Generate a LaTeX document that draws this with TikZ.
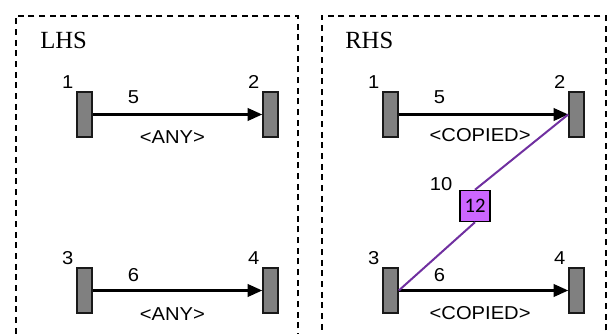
\documentclass[tikz,border=0pt]{standalone}
\usepackage{fontspec}
\setmainfont{Liberation Sans}[FakeStretch=1.08]
\newfontfamily\sidefont{Liberation Serif}
\newfontfamily\tagfont{Carlito}
\usetikzlibrary{arrows.meta, positioning}
\definecolor{portgray}{RGB}{128,128,128}
\definecolor{linkpurple}{RGB}{112,48,160}
\definecolor{tagpurple}{RGB}{204,102,255}

\begin{document}
\begin{tikzpicture}[
	x=0.75pt, y=-0.75pt,
	node distance=132pt and 139.5pt,
	font=\fontsize{14}{16}\selectfont,
	frame/.style={draw, dash pattern=on 4.5pt off 3.5pt, line width=1.2pt, anchor=north west, minimum height=255pt, inner sep=0pt},
	port/.style={on grid, draw=black!90, fill=portgray, line width=1.2pt, minimum width=11.25pt, minimum height=33.75pt, inner sep=0pt},
	num/.style={inner sep=0pt, anchor=south east},
	side/.style={inner sep=0pt, anchor=base west, font=\sidefont\fontsize{18.5}{22}\selectfont},
	arrow/.style={-{Triangle[length=11pt, width=9.5pt]}, line width=1.6pt},
	link/.style={linkpurple, line width=1.5pt},
	tagbox/.style={draw, fill=tagpurple, line width=1.1pt, minimum width=22.5pt, minimum height=23.25pt, inner sep=0pt, font=\tagfont\fontsize{15.5}{18}\selectfont}
]
\useasboundingbox (0,0) rectangle (608,334);

% Frames
\node[frame, minimum width=211.5pt] (lhs) at (15,15) {};
\node[frame, minimum width=213pt] (rhs) at (321,15) {};
\node[side] (lhsname) at (40,49) {LHS};
\node[side] (rhsname) at (345,49) {RHS};

% Ports
\node[port] (l1) at (84.5,114.5) {};
\node[port, right=of l1] (l2) {};
\node[port, below=of l1] (l3) {};
\node[port, below=of l2] (l4) {};
\node[port, right=229.5pt of l1] (r1) {};
\node[port, right=of r1] (r2) {};
\node[port, below=of r1] (r3) {};
\node[port, below=of r2] (r4) {};

% Port numbers
\node[num] (nl1) at ([shift={(-2pt,1.5pt)}]l1.north west) {1};
\node[num] (nl2) at ([shift={(-2pt,1.5pt)}]l2.north west) {2};
\node[num] (nl3) at ([shift={(-2pt,1.5pt)}]l3.north west) {3};
\node[num] (nl4) at ([shift={(-2pt,1.5pt)}]l4.north west) {4};
\node[num] (nr1) at ([shift={(-2pt,1.5pt)}]r1.north west) {1};
\node[num] (nr2) at ([shift={(-2pt,1.5pt)}]r2.north west) {2};
\node[num] (nr3) at ([shift={(-2pt,1.5pt)}]r3.north west) {3};
\node[num] (nr4) at ([shift={(-2pt,1.5pt)}]r4.north west) {4};

% Tag
\node[tagbox] (t12) at (475,206) {12};
\node[num] (n10) at ([shift={(-5pt,-1pt)}]t12.north west) {10};

% Edges
\draw[arrow] (l1) -- (l2) node[pos=0.24, above=7pt, inner sep=0pt] {5} node[pos=0.47, below=11pt, inner sep=0pt] {<ANY>};
\draw[arrow] (l3) -- (l4) node[pos=0.24, above=6pt, inner sep=0pt] {6} node[pos=0.47, below=12pt, inner sep=0pt] {<ANY>};
\draw[arrow] (r1) -- (r2) node[pos=0.24, above=7pt, inner sep=0pt] {5} node[pos=0.48, below=10pt, inner sep=0pt] {<COPIED>};
\draw[arrow] (r3) -- (r4) node[pos=0.24, above=6pt, inner sep=0pt] {6} node[pos=0.48, below=11pt, inner sep=0pt] {<COPIED>};
\draw[link] (r3.east) -- (t12.south);
\draw[link] (t12.north) -- (r2.west);

\end{tikzpicture}
\end{document}
